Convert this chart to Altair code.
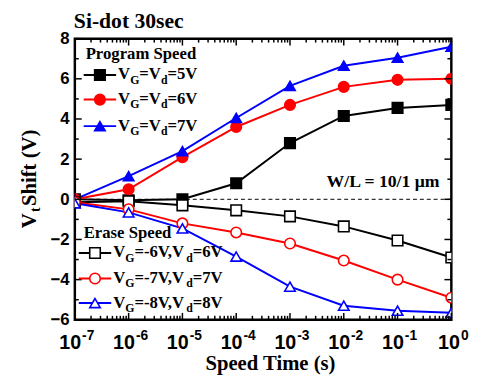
import altair as alt
import pandas as pd

# ---------------- data ----------------
times = [1e-7, 1e-6, 1e-5, 1e-4, 1e-3, 1e-2, 1e-1, 1e0]
prog_5v = [0.0, -0.05, 0.0, 0.8, 2.8, 4.15, 4.55, 4.7]
prog_6v = [0.0, 0.5, 2.1, 3.6, 4.7, 5.6, 5.95, 6.0]
prog_7v = [0.0, 1.15, 2.4, 4.05, 5.65, 6.65, 7.05, 7.6]
erase_6v = [-0.15, -0.1, -0.3, -0.55, -0.85, -1.35, -2.05, -2.9]
erase_7v = [-0.15, -0.5, -1.2, -1.65, -2.2, -3.05, -4.0, -4.9]
erase_8v = [-0.2, -0.65, -1.45, -2.85, -4.35, -5.3, -5.55, -5.65]

series_names = ["P5", "P6", "P7", "E6", "E7", "E8"]
series_values = [prog_5v, prog_6v, prog_7v, erase_6v, erase_7v, erase_8v]
stroke_colors = ["#000000", "#ff0000", "#0000ff", "#000000", "#ff0000", "#0000ff"]
fill_colors = ["#000000", "#ff0000", "#0000ff", "#ffffff", "#ffffff", "#ffffff"]
shapes = ["square", "circle", "triangle-up", "square", "circle", "triangle-up"]

x_decades = [-7, -6, -5, -4, -3, -2, -1, 0]
y_major = [-6, -4, -2, 0, 2, 4, 6, 8]
y_minor = [-5, -3, -1, 1, 3, 5, 7]

W, H = 383, 286
SERIF = "Liberation Serif"
SANS = "Liberation Sans"

rows = []
for name, vals in zip(series_names, series_values):
    for t, v in zip(times, vals):
        rows.append({"t": t, "v": v, "s": name})
df = pd.DataFrame(rows)

xscale = alt.Scale(type="log", domain=[1e-7, 1], nice=False)
yscale = alt.Scale(domain=[-6, 8], nice=False, zero=False)
sc_stroke = alt.Scale(domain=series_names, range=stroke_colors)
sc_fill = alt.Scale(domain=series_names, range=fill_colors)
sc_shape = alt.Scale(domain=series_names, range=shapes)

base = alt.Chart(df)

lines = base.mark_line(strokeWidth=2, clip=True).encode(
    x=alt.X("t:Q", scale=xscale, axis=None),
    y=alt.Y("v:Q", scale=yscale, axis=alt.Axis(
        values=y_major, ticks=False, domain=False, grid=False, title=None,
        labelFont=SANS, labelFontWeight="bold", labelFontSize=17,
        labelColor="black", labelPadding=6)),
    stroke=alt.Stroke("s:N", scale=sc_stroke, legend=None),
    detail="s:N",
)
points = base.mark_point(filled=True, size=115, strokeWidth=1.6, opacity=1, clip=True).encode(
    x=alt.X("t:Q", scale=xscale),
    y=alt.Y("v:Q", scale=yscale),
    stroke=alt.Stroke("s:N", scale=sc_stroke, legend=None),
    fill=alt.Fill("s:N", scale=sc_fill, legend=None),
    shape=alt.Shape("s:N", scale=sc_shape, legend=None),
)

zero = alt.Chart(pd.DataFrame({"z": [0]})).mark_rule(
    strokeDash=[4, 3], strokeWidth=1, color="black").encode(y=alt.Y("z:Q", scale=yscale))

# inward ticks
xmaj = pd.DataFrame({"t": [10.0 ** d for d in x_decades]})
xmin = pd.DataFrame({"t": [k * 10.0 ** d for d in x_decades[:-1] for k in range(2, 10)]})
ymaj = pd.DataFrame({"v": y_major})
ymin = pd.DataFrame({"v": y_minor})

def xticks(d, L):
    c = alt.Chart(d)
    bot = c.mark_rule(color="black", strokeWidth=1.5).encode(
        x=alt.X("t:Q", scale=xscale), y=alt.value(H), y2=alt.value(H - L))
    top = c.mark_rule(color="black", strokeWidth=1.5).encode(
        x=alt.X("t:Q", scale=xscale), y=alt.value(0), y2=alt.value(L))
    return bot + top

def yticks(d, L):
    c = alt.Chart(d)
    lft = c.mark_rule(color="black", strokeWidth=1.5).encode(
        y=alt.Y("v:Q", scale=yscale), x=alt.value(0), x2=alt.value(L))
    rgt = c.mark_rule(color="black", strokeWidth=1.5).encode(
        y=alt.Y("v:Q", scale=yscale), x=alt.value(W), x2=alt.value(W - L))
    return lft + rgt

ticks = xticks(xmaj, 7) + xticks(xmin, 4) + yticks(ymaj, 7) + yticks(ymin, 4)

# x tick labels 10^n
def arial_w(s, size):
    w = {"-": 333, "1": 556, "0": 556}
    return sum(w.get(ch, 556) for ch in s) * size / 1000.0

xlab_layers = []
for d in x_decades:
    e = str(d)
    w10 = arial_w("10", 20)
    we = arial_w(e, 14)
    left = 2 - (w10 + we + 1) / 2
    r = {"t": 10.0 ** d, "base": "10", "exp": e}
    c = alt.Chart(pd.DataFrame([r]))
    xlab_layers.append(c.mark_text(align="left", baseline="alphabetic", font=SANS,
                                   fontWeight="bold", fontSize=20, dx=left, color="black").encode(
        x=alt.X("t:Q", scale=xscale), y=alt.value(H + 30), text="base:N"))
    xlab_layers.append(c.mark_text(align="left", baseline="alphabetic", font=SANS,
                                   fontWeight="bold", fontSize=14, dx=left + w10 + 1, color="black").encode(
        x=alt.X("t:Q", scale=xscale), y=alt.value(H + 21), text="exp:N"))

# rich text helper (Times Bold metrics)
TW = {"V": 722, "G": 778, "=": 570, "d": 556, "-": 333, ",": 250, "t": 333, " ": 250,
      "S": 556, "h": 556, "i": 278, "f": 333, "(": 333, ")": 333}

def tw(s, size):
    return sum(TW.get(ch, 500) for ch in s) * size / 1000.0

def rich(segs, x0, y0, size, sub_size, sub_drop=4.5, angle=0, gap=0.0):
    layers = []
    pos = 0.0
    for txt, sub in segs:
        fs = sub_size if sub else size
        drop = sub_drop if sub else 0
        if angle == 0:
            px, py = x0 + pos, y0 + drop
        else:
            px, py = x0 + drop, y0 - pos
        mk = dict(align="left", baseline="alphabetic", font=SERIF, fontWeight="bold",
                  fontSize=fs, color="black", text=txt)
        if angle:
            mk["angle"] = angle
        layers.append(alt.Chart(pd.DataFrame({"a": [0]})).mark_text(**mk).encode(
            x=alt.value(px), y=alt.value(py)))
        pos += tw(txt, fs) + gap
    return layers

# legend
leg_names = ["P5", "P6", "P7", "E6", "E7", "E8"]
leg_labels = [
    [("V", 0), ("G", 1), ("=V", 0), ("d", 1), ("=5V", 0)],
    [("V", 0), ("G", 1), ("=V", 0), ("d", 1), ("=6V", 0)],
    [("V", 0), ("G", 1), ("=V", 0), ("d", 1), ("=7V", 0)],
    [("V", 0), ("G", 1), ("=-6V,V", 0), ("d", 1), ("=6V", 0)],
    [("V", 0), ("G", 1), ("=-7V,V", 0), ("d", 1), ("=7V", 0)],
    [("V", 0), ("G", 1), ("=-8V,V", 0), ("d", 1), ("=8V", 0)],
]
leg_y = [37, 62, 89, 218, 244, 269]
leg_x0 = [9, 9, 9, 4, 4, 4]
leg_len = 33

leg_df = pd.DataFrame({"s": leg_names, "y": leg_y, "x0": leg_x0,
                       "x1": [a + leg_len for a in leg_x0],
                       "xm": [a + leg_len / 2 for a in leg_x0]})
lc = alt.Chart(leg_df)
leg_lines = lc.mark_rule(strokeWidth=2).encode(
    x=alt.X("x0:Q", scale=None), x2="x1:Q", y=alt.Y("y:Q", scale=None),
    stroke=alt.Stroke("s:N", scale=sc_stroke, legend=None))
leg_pts = lc.mark_point(filled=True, size=115, strokeWidth=1.6, opacity=1).encode(
    x=alt.X("xm:Q", scale=None), y=alt.Y("y:Q", scale=None),
    stroke=alt.Stroke("s:N", scale=sc_stroke, legend=None),
    fill=alt.Fill("s:N", scale=sc_fill, legend=None),
    shape=alt.Shape("s:N", scale=sc_shape, legend=None))

texts = []
for segs, y, x0 in zip(leg_labels, leg_y, leg_x0):
    texts += rich(segs, x0 + leg_len + 2, y + 4.5, 17, 12)

def plain(txt, x, y, size, align="left", angle=0):
    mk = dict(align=align, baseline="alphabetic", font=SERIF, fontWeight="bold",
              fontSize=size, color="black", text=txt)
    if angle:
        mk["angle"] = angle
    return alt.Chart(pd.DataFrame({"a": [0]})).mark_text(**mk).encode(
        x=alt.value(x), y=alt.value(y))

texts.append(plain("Program Speed", 11, 21, 17))
texts.append(plain("Erase Speed", 9, 203, 17))
texts.append(plain("W/L = 10/1 \u03bcm", 371, 151, 18, align="right"))
texts.append(plain("Si-dot 30sec", -1, -11, 22))
texts.append(plain("Speed Time (s)", 199, 337, 21, align="center"))
texts += rich([("V", 0), ("t", 1), (" Shift (V)", 0)], -40, 193, 21, 14, sub_drop=5,
              angle=270, gap=1.5)

chart = alt.layer(zero, lines, points, ticks, *xlab_layers, leg_lines, leg_pts, *texts).properties(
    width=W, height=H,
    autosize=alt.AutoSizeParams(type="none"),
    padding={"left": 68, "top": 28, "right": 20, "bottom": 54},
).configure_view(stroke="black", strokeWidth=2.5).configure_axis(labelColor="black")

chart.save("out.html", embed_options={"renderer": "svg", "actions": False})
